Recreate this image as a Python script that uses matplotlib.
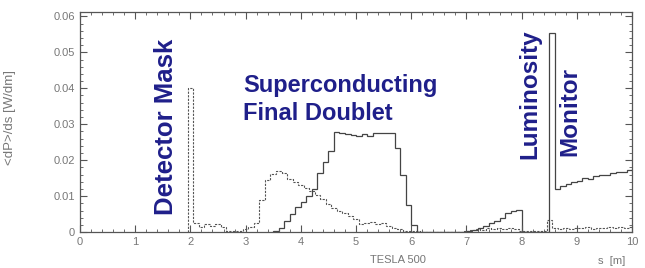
import numpy as np
import matplotlib
matplotlib.use("Agg")
import matplotlib.pyplot as plt
from matplotlib.ticker import MultipleLocator

# dashed histogram (detector mask + photon background), bin width 0.1 starting at 1.95
dash_start = 1.95
dash_vals = [0.040, 0.0025, 0.0015, 0.0022, 0.0016, 0.0022, 0.0015, 0.0003, 0.0002, 0.0003,
             0.0008, 0.0015, 0.0026, 0.0090, 0.0145, 0.0162, 0.0170, 0.0163, 0.0148, 0.0138,
             0.0130, 0.0122, 0.0113, 0.0103, 0.0093, 0.0078, 0.0068, 0.0058, 0.0052, 0.0045,
             0.0036, 0.0022, 0.0024, 0.0028, 0.0022, 0.0025, 0.0016, 0.0012, 0.0008, 0.0004,
             0.0002, 0.0002, 0.0001, 0.0001, 0.0001, 0.0001, 0.0001, 0.0001, 0.0001, 0.0001,
             0.0004, 0.0006, 0.0009, 0.0007, 0.0010, 0.0008, 0.0011, 0.0009, 0.0012, 0.0008,
             0.0004, 0.0003, 0.0003, 0.0003, 0.0002, 0.0035, 0.0012, 0.0008, 0.0011, 0.0009,
             0.0012, 0.0010, 0.0013, 0.0009, 0.0012, 0.0011, 0.0014, 0.0010, 0.0013, 0.0012,
             0.0015]

# solid histogram (final doublet, quads, luminosity monitor), bin width 0.1 starting at 3.5
solid_start = 3.5
solid_vals = [0.0003, 0.0010, 0.0030, 0.0050, 0.0070, 0.0085, 0.0100, 0.0120, 0.0165, 0.0195,
              0.0225, 0.0278, 0.0275, 0.0273, 0.0270, 0.0268, 0.0272, 0.0268, 0.0275, 0.0275,
              0.0275, 0.0275, 0.0235, 0.0160, 0.0075, 0.0020, 0.0, 0.0, 0.0, 0.0,
              0.0, 0.0, 0.0, 0.0, 0.0, 0.0003, 0.0007, 0.0012, 0.0018, 0.0024,
              0.0030, 0.0038, 0.0052, 0.0060, 0.0062, 0.0, 0.0, 0.0, 0.0, 0.0,
              0.0555, 0.0120, 0.0128, 0.0133, 0.0138, 0.0142, 0.0150, 0.0148, 0.0155, 0.0160,
              0.0158, 0.0164, 0.0168, 0.0166, 0.0172, 0.0175, 0.0174, 0.0178, 0.0180, 0.0183]

xticks = list(range(0, 11))
yticks = [0, 0.01, 0.02, 0.03, 0.04, 0.05, 0.06]
ytick_labels = ["0", "0.01", "0.02", "0.03", "0.04", "0.05", "0.06"]

dash_edges = dash_start + 0.1 * np.arange(len(dash_vals) + 1)
solid_edges = solid_start + 0.1 * np.arange(len(solid_vals) + 1)

plt.rcParams['font.family'] = ['Liberation Sans', 'DejaVu Sans']

fig = plt.figure(figsize=(6.45, 2.68), dpi=100)
ax = fig.add_axes([0.124, 0.134, 0.856, 0.821])

ax.stairs(dash_vals, dash_edges, baseline=0, color='#555555', lw=0.8, ls=(0, (2, 1.2)))
ax.stairs(solid_vals, solid_edges, baseline=0, color='#444444', lw=0.9)

ax.set_xlim(0, 10)
ax.set_ylim(0, 0.0612)
ax.set_xticks(xticks)
ax.set_yticks(yticks)
ax.set_yticklabels(ytick_labels)
ax.xaxis.set_minor_locator(MultipleLocator(0.2))
ax.yaxis.set_minor_locator(MultipleLocator(0.002))
ax.tick_params(which='both', direction='in', top=True, right=True, color='#555555',
               labelcolor='#777777', labelsize=8)
ax.tick_params(which='major', length=5, width=0.8)
ax.tick_params(which='minor', length=2.5, width=0.6)
for s in ax.spines.values():
    s.set_color('#555555')
    s.set_linewidth(0.9)

navy = '#1f1f8a'
ax.text(1.55, 0.0294, "Detector Mask", rotation=90, ha='center', va='center',
        fontsize=18.5, fontweight='bold', color=navy)
ax.text(2.95, 0.0368, "Superconducting\nFinal Doublet", ha='left', va='center',
        fontsize=17, fontweight='bold', color=navy, linespacing=1.3)
ax.text(8.15, 0.0383, "Luminosity", rotation=90, ha='center', va='center',
        fontsize=17.5, fontweight='bold', color=navy)
ax.text(8.88, 0.0336, "Monitor", rotation=90, ha='center', va='center',
        fontsize=17.5, fontweight='bold', color=navy)

fig.text(0.016, 0.56, "<dP>/ds [W/dm]", rotation=90, ha='center', va='center',
         fontsize=9.5, color='#777777')
fig.text(0.617, 0.03, "TESLA 500", ha='center', va='center', fontsize=8, color='#777777')
fig.text(0.948, 0.025, "s  [m]", ha='center', va='center', fontsize=8, color='#777777')

fig.savefig("out.png", dpi=100)
